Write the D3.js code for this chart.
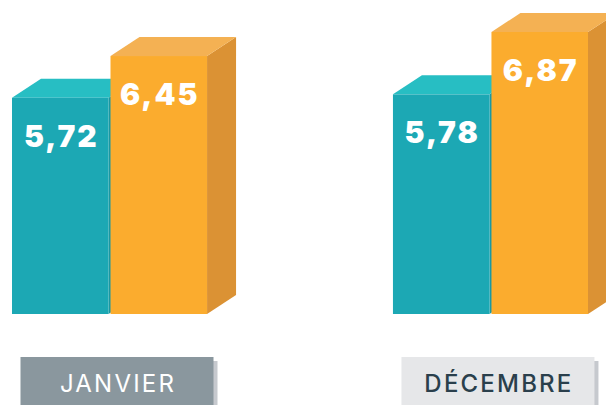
<!DOCTYPE html>
<html>
<head>
<meta charset="utf-8">
<script src="https://cdn.jsdelivr.net/npm/d3@7"></script>
<style>
  body { margin: 0; background: #fff; }
</style>
</head>
<body>
<svg width="606" height="405"></svg>
<script>
var months = ["JANVIER", "DÉCEMBRE"];
var series = ["avant", "apres"];
var valuesTeal = [5.72, 5.78];
var valuesOrange = [6.45, 6.87];

var w = 606, h = 405;
var baseY = 314;
var depthX = 29, depthY = 19;

// colours per series: front, top, side
var colors = {
  avant: { front: "#1ca8b4", top: "#27bec3", side: "#1a98a3" },
  apres: { front: "#fbac2e", top: "#f4b153", side: "#db9234" }
};

var fr = d3.formatLocale({ decimal: ",", thousands: " ", grouping: [3], currency: ["", " €"] });
var fmt = fr.format(".2f");

var svg = d3.select("svg");

var x0 = d3.scaleBand().domain(months).range([12, 588]).paddingInner(0.488);
var x1 = d3.scaleBand().domain(series).range([0, x0.bandwidth()]).paddingInner(0.02);

// value scale does not start at zero in the original infographic
var y = d3.scaleLinear().domain([1.94, 6.87]).range([baseY, 32]);

var data = months.map(function(m, i) {
  return { month: m, bars: [
    { key: "avant", value: valuesTeal[i] },
    { key: "apres", value: valuesOrange[i] }
  ]};
});

var groups = svg.selectAll(".group")
  .data(data)
  .enter()
  .append("g")
  .attr("class", "group")
  .attr("transform", d => `translate(${x0(d.month)},0)`);

var bars = groups.selectAll(".bar")
  .data(d => d.bars)
  .enter()
  .append("g")
  .attr("class", "bar");

// side face
bars.append("path")
  .attr("fill", d => colors[d.key].side)
  .attr("d", function(d) {
    var xl = x1(d.key), xr = xl + x1.bandwidth(), yt = y(d.value);
    return `M${xr},${yt}L${xr + depthX},${yt - depthY}L${xr + depthX},${baseY - depthY}L${xr},${baseY}Z`;
  });

// top face
bars.append("path")
  .attr("fill", d => colors[d.key].top)
  .attr("d", function(d) {
    var xl = x1(d.key), xr = xl + x1.bandwidth(), yt = y(d.value);
    return `M${xl},${yt}L${xl + depthX},${yt - depthY}L${xr + depthX},${yt - depthY}L${xr},${yt}Z`;
  });

// front face
bars.append("rect")
  .attr("x", d => x1(d.key))
  .attr("y", d => y(d.value))
  .attr("width", x1.bandwidth())
  .attr("height", d => baseY - y(d.value))
  .attr("fill", d => colors[d.key].front);

bars.append("text")
  .attr("x", d => x1(d.key) + x1.bandwidth() / 2 + 1)
  .attr("y", d => y(d.value) + 49)
  .attr("text-anchor", "middle")
  .attr("fill", "#fff")
  .style("font-family", "Inter, sans-serif")
  .style("font-weight", 900)
  .style("font-size", "30px")
  .style("letter-spacing", "2px")
  .text(d => fmt(d.value));

// month labels
var boxW = 193;
var labelStyles = [
  { fill: "#8a979e", text: "#ffffff" },
  { fill: "#e6e7e9", text: "#2a3f4c" }
];

var labels = svg.selectAll(".month")
  .data(months)
  .enter()
  .append("g")
  .attr("class", "month")
  .attr("transform", d => `translate(${x0(d) + 8.5},357)`);

labels.append("rect")
  .attr("x", 4)
  .attr("y", 4)
  .attr("width", boxW)
  .attr("height", 60)
  .attr("fill", "#c6c9ce");

labels.append("rect")
  .attr("width", boxW)
  .attr("height", 60)
  .attr("fill", (d, i) => labelStyles[i].fill);

labels.append("text")
  .attr("x", boxW / 2 + 1)
  .attr("y", 35)
  .attr("text-anchor", "middle")
  .attr("fill", (d, i) => labelStyles[i].text)
  .style("font-family", "Inter, sans-serif")
  .style("font-weight", (d, i) => i ? 500 : 400)
  .style("font-size", "24px")
  .style("letter-spacing", "2.2px")
  .text(d => d);
</script>
</body>
</html>
